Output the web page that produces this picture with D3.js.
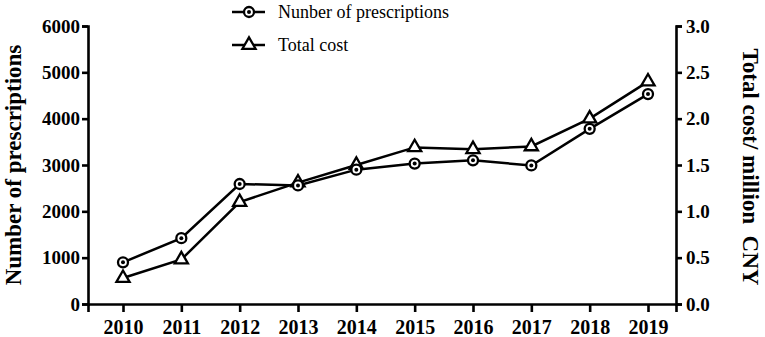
<!DOCTYPE html>
<html><head><meta charset="utf-8">
<script src="https://cdn.jsdelivr.net/npm/d3@7"></script>
<style>body{margin:0;background:#fff}svg{display:block}</style>
</head><body>
<svg id="c" width="765" height="337"></svg>
<script>
const years = [2010,2011,2012,2013,2014,2015,2016,2017,2018,2019];
const prescriptions = [900,1420,2590,2560,2900,3030,3100,2990,3780,4530];
const totalCost = [0.28,0.48,1.10,1.31,1.50,1.69,1.67,1.70,2.00,2.40];
const leftTicks = [0,1000,2000,3000,4000,5000,6000];
const rightTicks = [0,0.5,1,1.5,2,2.5,3];
const legendLabels = ["Nunber of prescriptions","Total cost"];

const svg = d3.select("#c");
const L = 88, R = 676, T = 26, B = 304;
const x = d3.scaleLinear().domain([2009.4, 2019.48]).range([L, R]);
const yL = d3.scaleLinear().domain([0,6000]).range([B, T]);
const yR = d3.scaleLinear().domain([0,3]).range([B, T]);
const font = "'Liberation Serif','Times New Roman',serif";

function styleAxis(g, fs){
  g.attr("font-family", font);
  g.select(".domain").attr("stroke","#000").attr("stroke-width",2.6);
  g.selectAll(".tick line").attr("stroke","#000").attr("stroke-width",2.6);
  g.selectAll(".tick text").attr("font-family",font).attr("font-weight","bold").attr("font-size",fs).attr("fill","#000");
}
const gx = svg.append("g").attr("transform",`translate(0,${B})`)
  .call(d3.axisBottom(x).tickValues(years).tickFormat(d3.format("d")).tickSizeOuter(0).tickSize(8).tickPadding(8));
styleAxis(gx, 20);
const gl = svg.append("g").attr("transform",`translate(${L},0)`)
  .call(d3.axisLeft(yL).tickValues(leftTicks).tickFormat(d3.format("d")).tickSizeOuter(0).tickSize(6).tickPadding(2));
styleAxis(gl, 19);
const gr = svg.append("g").attr("transform",`translate(${R},0)`)
  .call(d3.axisRight(yR).tickValues(rightTicks).tickFormat(d3.format(".1f")).tickSizeOuter(0).tickSize(6).tickPadding(4));
styleAxis(gr, 19);

svg.append("text").attr("transform",`translate(21,${(T+B)/2}) rotate(-90)`)
  .attr("text-anchor","middle").attr("font-family",font).attr("font-weight","bold").attr("font-size",23)
  .text("Number of prescriptions");
svg.append("text").attr("transform",`translate(743,${(T+B)/2+2}) rotate(90)`)
  .attr("text-anchor","middle").attr("font-family",font).attr("font-weight","bold").attr("font-size",23)
  .style("white-space","pre")
  .text("Total cost/ million  CNY");

const lineL = d3.line().x((d,i)=>x(years[i])).y(d=>yL(d));
const lineR = d3.line().x((d,i)=>x(years[i])).y(d=>yR(d));
svg.append("path").attr("d",lineR(totalCost)).attr("fill","none").attr("stroke","#000").attr("stroke-width",2.5);
svg.append("path").attr("d",lineL(prescriptions)).attr("fill","none").attr("stroke","#000").attr("stroke-width",2.5);

const tri = d3.symbol().type(d3.symbolTriangle).size(75);
function circleMarker(g,cx,cy){
  g.append("circle").attr("cx",cx).attr("cy",cy).attr("r",5).attr("fill","#fff").attr("stroke","#000").attr("stroke-width",2.3);
  g.append("circle").attr("cx",cx).attr("cy",cy).attr("r",2).attr("fill","#000");
}
function triMarker(g,cx,cy){
  g.append("path").attr("d",tri()).attr("transform",`translate(${cx},${cy})`).attr("fill","#fff").attr("stroke","#000").attr("stroke-width",2.3);
}
const mk = svg.append("g");
totalCost.forEach((v,i)=>triMarker(mk,x(years[i]),yR(v)));
prescriptions.forEach((v,i)=>circleMarker(mk,x(years[i]),yL(v)));

// legend
const lg = svg.append("g");
const rows = [12,45];
rows.forEach((ry,i)=>{
  lg.append("line").attr("x1",232).attr("x2",265).attr("y1",ry).attr("y2",ry).attr("stroke","#000").attr("stroke-width",2.5);
  if(i===0) circleMarker(lg,249,ry); else triMarker(lg,249,ry);
  lg.append("text").attr("x",278).attr("y",ry+6).attr("font-family",font).attr("font-size",18).text(legendLabels[i]);
});
</script>
</body></html>
